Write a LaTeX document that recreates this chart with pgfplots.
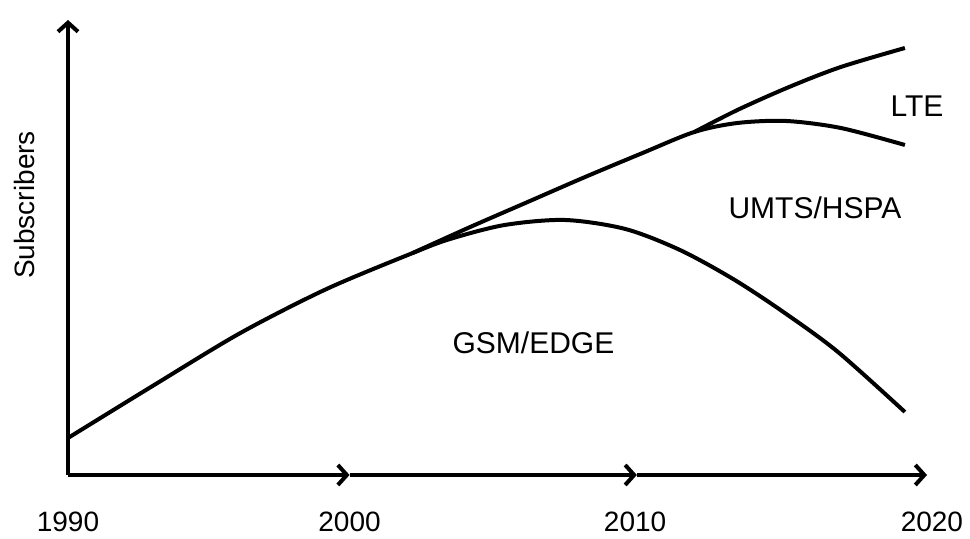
\documentclass[border=0pt]{standalone}
\usepackage{pgfplots}
\pgfplotsset{compat=1.18}
\usepackage{fontspec}
\setmainfont{Liberation Sans}
\usetikzlibrary{arrows.meta}
\begin{document}
\begin{tikzpicture}[font=\fontsize{15}{18}\selectfont]
\begin{axis}[
  scale only axis, width=485pt, height=268.5pt,
  xmin=1987.633, xmax=2021.396, ymin=-62, ymax=475,
  hide axis, clip=false,
]
\path (rel axis cs:0,0) rectangle (rel axis cs:1,1);
% axes
\draw[line width=2pt, -{Straight Barb[length=4.5pt,width=10pt]}] (axis cs:1990,0) -- (axis cs:1990,455);
\draw[line width=2pt, -{Straight Barb[length=4.5pt,width=10pt]}] (axis cs:1990,0) -- (axis cs:1999.8,0);
\draw[line width=2pt, -{Straight Barb[length=4.5pt,width=10pt]}] (axis cs:1999.8,0) -- (axis cs:2009.8,0);
\draw[line width=2pt, -{Straight Barb[length=4.5pt,width=10pt]}] (axis cs:2009.8,0) -- (axis cs:2019.9,0);
% GSM/EDGE
\addplot[black, line width=2pt, smooth] coordinates {
(1990,37) (1993,90) (1996,142) (1999,186) (2002,222) (2003.3,236) (2005.2,250) (2007.3,255) (2009.4,246) (2011.3,225) (2013.15,196) (2014.9,163) (2016.8,123) (2019.13,63)};
% UMTS/HSPA upper boundary
\addplot[black, line width=2pt, smooth] coordinates {
(2002,222) (2004,248) (2006,273) (2008,298) (2010,322) (2011.8,343) (2013.3,352) (2015,354) (2016.9,347) (2019.13,330)};
% LTE upper boundary
\addplot[black, line width=2pt, smooth] coordinates {
(2011.8,343) (2013.3,365) (2015.1,388) (2016.9,408) (2019.13,427)};
% labels
\node[rotate=90, font=\fontsize{14}{16}\selectfont] at (axis cs:1988.5,270) {Subscribers};
\node at (axis cs:2006.2,132) {GSM/EDGE};
\node at (axis cs:2016.0,267) {UMTS/HSPA};
\node at (axis cs:2019.55,369) {LTE};
\node[font=\fontsize{14}{16}\selectfont] at (axis cs:1990,-47) {1990};
\node[font=\fontsize{14}{16}\selectfont] at (axis cs:1999.8,-47) {2000};
\node[font=\fontsize{14}{16}\selectfont] at (axis cs:2009.74,-47) {2010};
\node[font=\fontsize{14}{16}\selectfont] at (axis cs:2020.07,-47) {2020};
\end{axis}
\end{tikzpicture}
\end{document}
